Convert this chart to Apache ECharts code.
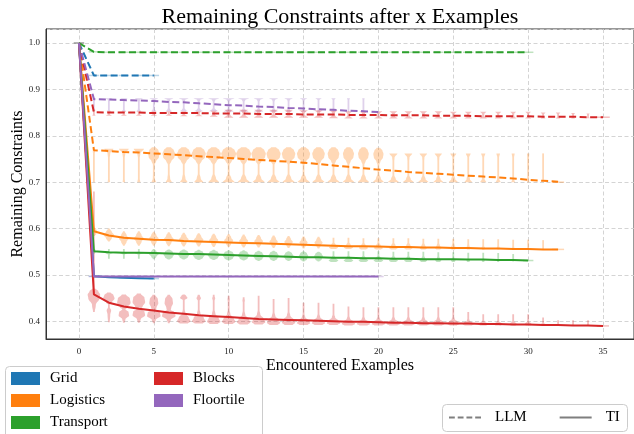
<!DOCTYPE html>
<html><head><meta charset="utf-8">
<script src="https://cdn.jsdelivr.net/npm/echarts@6/dist/echarts.min.js"></script>
<style>html,body{margin:0;padding:0;background:#fff}#c{width:634px;height:434px}</style>
</head><body><div id="c"></div>
<script>
// ---------------- DATA ----------------
const domains = ['Grid', 'Logistics', 'Transport', 'Blocks', 'Floortile'];
const methods = ['LLM', 'TI'];
const xTickLabels = [0, 5, 10, 15, 20, 25, 30, 35];
const yTickLabels = [0.4, 0.5, 0.6, 0.7, 0.8, 0.9, 1.0];

// mean remaining constraints, index = encountered examples
const llmGrid = [1.0, 0.93, 0.93, 0.93, 0.93, 0.93];
const llmLogistics = [1.0, 0.769, 0.767, 0.765, 0.764, 0.762, 0.760, 0.758, 0.756, 0.754, 0.752, 0.750, 0.748, 0.746, 0.744, 0.742, 0.739, 0.736, 0.733, 0.730, 0.727, 0.725, 0.722, 0.720, 0.718, 0.716, 0.714, 0.712, 0.710, 0.708, 0.705, 0.703, 0.701];
const llmTransport = [1.0, 0.981, 0.980, 0.980, 0.980, 0.980, 0.980, 0.980, 0.980, 0.980, 0.980, 0.980, 0.980, 0.980, 0.980, 0.980, 0.980, 0.980, 0.980, 0.980, 0.980, 0.980, 0.980, 0.980, 0.980, 0.980, 0.980, 0.980, 0.980, 0.980, 0.980];
const llmBlocks = [1.0, 0.851, 0.850, 0.850, 0.850, 0.849, 0.849, 0.849, 0.849, 0.848, 0.848, 0.848, 0.847, 0.847, 0.847, 0.846, 0.846, 0.846, 0.845, 0.845, 0.845, 0.844, 0.844, 0.844, 0.843, 0.843, 0.843, 0.842, 0.842, 0.842, 0.842, 0.841, 0.841, 0.841, 0.840, 0.840];
const llmFloortile = [1.0, 0.879, 0.878, 0.877, 0.876, 0.875, 0.873, 0.872, 0.870, 0.868, 0.866, 0.865, 0.863, 0.862, 0.860, 0.859, 0.857, 0.856, 0.854, 0.853, 0.851];

const tiGrid = [1.0, 0.497, 0.495, 0.494, 0.493, 0.492];
const tiLogistics = [1.0, 0.594, 0.585, 0.580, 0.578, 0.576, 0.575, 0.573, 0.572, 0.571, 0.570, 0.569, 0.568, 0.567, 0.566, 0.565, 0.564, 0.563, 0.562, 0.562, 0.561, 0.560, 0.560, 0.559, 0.559, 0.558, 0.558, 0.557, 0.557, 0.556, 0.556, 0.555, 0.555];
const tiTransport = [1.0, 0.551, 0.549, 0.548, 0.548, 0.547, 0.546, 0.545, 0.545, 0.544, 0.543, 0.542, 0.541, 0.540, 0.539, 0.538, 0.538, 0.537, 0.537, 0.536, 0.536, 0.535, 0.535, 0.534, 0.534, 0.534, 0.533, 0.533, 0.532, 0.532, 0.531];
const tiBlocks = [1.0, 0.458, 0.440, 0.432, 0.427, 0.423, 0.419, 0.416, 0.413, 0.411, 0.409, 0.407, 0.405, 0.404, 0.403, 0.402, 0.401, 0.400, 0.399, 0.399, 0.398, 0.397, 0.397, 0.396, 0.396, 0.395, 0.395, 0.394, 0.394, 0.393, 0.393, 0.392, 0.392, 0.391, 0.391, 0.390];
const tiFloortile = [1.0, 0.4965, 0.4965, 0.4965, 0.4965, 0.4965, 0.4965, 0.4965, 0.4965, 0.4965, 0.4965, 0.4965, 0.4965, 0.4965, 0.4965, 0.4965, 0.4965, 0.4965, 0.4965, 0.4965, 0.4965];

// violins: [x, low, high, shape, top density, bottom density]
const violinsStart = [[0, 1.0, 1.0, '-', 0.35, 0]];
const violinsLogisticsLLM = [
  [1,0.70,0.770,'T',0.08,0.06],[2,0.70,0.772,'T',0.30,0.08],[3,0.70,0.772,'T',0.32,0.08],[4,0.70,0.772,'T',0.34,0.10],
  [5,0.70,0.775,'B',0.38,0.15],[6,0.70,0.775,'B',0.42,0.20],[7,0.70,0.775,'B',0.45,0.25],[8,0.70,0.775,'B',0.47,0.30],
  [9,0.70,0.775,'B',0.48,0.35],[10,0.70,0.775,'B',0.50,0.40],[11,0.70,0.775,'B',0.50,0.40],[12,0.70,0.775,'B',0.48,0.40],
  [13,0.70,0.775,'B',0.47,0.40],[14,0.70,0.775,'B',0.45,0.40],[15,0.70,0.775,'B',0.44,0.40],[16,0.70,0.775,'B',0.42,0.40],
  [17,0.70,0.775,'B',0.39,0.40],[18,0.70,0.775,'B',0.37,0.38],[19,0.70,0.775,'B',0.36,0.37],[20,0.70,0.774,'B',0.34,0.36],
  [21,0.70,0.762,'T',0.27,0.36],[22,0.70,0.762,'T',0.26,0.35],[23,0.70,0.762,'T',0.25,0.34],[24,0.70,0.762,'T',0.24,0.32],
  [25,0.70,0.762,'T',0.20,0.30],[26,0.70,0.762,'T',0.16,0.25],[27,0.70,0.762,'T',0.14,0.20],[28,0.70,0.762,'T',0.12,0.16],
  [29,0.70,0.762,'T',0.10,0.12],[30,0.70,0.762,'T',0.08,0.08],[31,0.705,0.762,'T',0.06,0.06],[32,0.70,0.70,'-',0.4,0]
];
const violinsFloortileLLM = [
  [1,0.855,0.881,'T',0.08,0.06],[2,0.853,0.881,'T',0.22,0.12],[3,0.853,0.881,'T',0.24,0.14],[4,0.853,0.881,'T',0.26,0.16],
  [5,0.853,0.881,'T',0.28,0.18],[6,0.853,0.881,'T',0.30,0.22],[7,0.853,0.881,'T',0.32,0.27],[8,0.853,0.881,'T',0.34,0.30],
  [9,0.853,0.881,'T',0.36,0.32],[10,0.852,0.881,'T',0.38,0.34],[11,0.852,0.881,'T',0.36,0.32],[12,0.852,0.881,'T',0.32,0.30],
  [13,0.852,0.881,'T',0.30,0.27],[14,0.852,0.881,'T',0.27,0.22],[15,0.852,0.881,'T',0.24,0.17],[16,0.852,0.881,'T',0.20,0.12],
  [17,0.852,0.881,'T',0.14,0.08],[18,0.852,0.881,'T',0.10,0.06],[19,0.852,0.881,'T',0.08,0.06]
];
const violinsBlocksLLM = [
  [1,0.843,0.856,'X',0.10,0.10],[2,0.843,0.853,'X',0.15,0.20],[3,0.843,0.853,'X',0.15,0.20],[4,0.843,0.853,'X',0.16,0.20],
  [5,0.843,0.853,'X',0.16,0.22],[6,0.843,0.853,'X',0.18,0.22],[7,0.842,0.853,'X',0.18,0.24],[8,0.842,0.853,'X',0.20,0.24],
  [9,0.841,0.854,'X',0.22,0.26],[10,0.839,0.856,'X',0.28,0.30],[11,0.839,0.856,'X',0.28,0.30],[12,0.839,0.856,'X',0.28,0.30],
  [13,0.839,0.856,'X',0.28,0.30],[14,0.839,0.856,'X',0.28,0.30],[15,0.839,0.855,'X',0.27,0.30],[16,0.839,0.855,'X',0.27,0.29],
  [17,0.838,0.855,'X',0.26,0.29],[18,0.837,0.853,'X',0.25,0.28],[19,0.837,0.853,'X',0.25,0.28],[20,0.837,0.853,'X',0.25,0.28],
  [21,0.837,0.853,'X',0.25,0.28],[22,0.837,0.853,'X',0.25,0.28],[23,0.837,0.853,'X',0.24,0.27],[24,0.837,0.853,'X',0.24,0.27],
  [25,0.837,0.852,'X',0.23,0.26],[26,0.837,0.852,'X',0.22,0.25],[27,0.837,0.852,'X',0.21,0.24],[28,0.837,0.852,'X',0.20,0.23],
  [29,0.837,0.852,'X',0.19,0.22],[30,0.837,0.852,'X',0.18,0.20],[31,0.837,0.850,'X',0.15,0.15],[32,0.837,0.850,'X',0.14,0.14],
  [33,0.837,0.849,'X',0.12,0.12],[34,0.838,0.848,'X',0.10,0.10],[35,0.840,0.840,'-',0.45,0]
];
const violinsLogisticsTI = [
  [1,0.584,0.602,'E',0.22,0],[2,0.572,0.600,'D',0.35,0],[3,0.563,0.594,'D',0.32,0],[4,0.563,0.594,'D',0.32,0],
  [5,0.563,0.593,'D',0.32,0],[6,0.562,0.592,'D',0.32,0],[7,0.561,0.591,'D',0.32,0],[8,0.561,0.590,'D',0.31,0],
  [9,0.560,0.589,'D',0.30,0],[10,0.560,0.588,'D',0.30,0],[11,0.559,0.587,'D',0.30,0],[12,0.559,0.586,'D',0.29,0],
  [13,0.558,0.585,'D',0.28,0],[14,0.558,0.584,'D',0.28,0],[15,0.557,0.583,'D',0.27,0],[16,0.557,0.582,'D',0.27,0],
  [17,0.556,0.580,'A',0,0.30],[18,0.556,0.580,'A',0,0.30],[19,0.555,0.579,'A',0,0.30],[20,0.555,0.579,'A',0,0.30],
  [21,0.555,0.579,'A',0,0.29],[22,0.555,0.579,'A',0,0.28],[23,0.555,0.578,'A',0,0.25],[24,0.555,0.578,'A',0,0.22],
  [25,0.555,0.578,'A',0,0.20],[26,0.555,0.577,'A',0,0.15],[27,0.555,0.577,'A',0,0.12],[28,0.555,0.577,'A',0,0.10],
  [29,0.555,0.576,'A',0,0.08],[30,0.555,0.576,'A',0,0.06],[31,0.555,0.575,'A',0,0.05],[32,0.555,0.555,'-',0.4,0]
];
const violinsTransportTI = [
  [1,0.546,0.556,'E',0.15,0],[2,0.535,0.556,'P',0.25,0],[3,0.535,0.556,'P',0.25,0],[4,0.535,0.556,'P',0.28,0],
  [5,0.534,0.556,'D',0.32,0],[6,0.533,0.555,'E',0.35,0],[7,0.533,0.555,'E',0.38,0],[8,0.532,0.554,'E',0.40,0],
  [9,0.532,0.554,'E',0.40,0],[10,0.531,0.553,'E',0.40,0],[11,0.531,0.553,'E',0.38,0],[12,0.530,0.552,'E',0.36,0],
  [13,0.530,0.552,'E',0.35,0],[14,0.530,0.551,'E',0.33,0],[15,0.529,0.551,'E',0.32,0],[16,0.529,0.550,'E',0.30,0],
  [17,0.528,0.551,'A',0,0.32],[18,0.528,0.551,'A',0,0.32],[19,0.528,0.551,'A',0,0.32],[20,0.528,0.551,'A',0,0.32],
  [21,0.528,0.550,'A',0,0.30],[22,0.528,0.550,'A',0,0.28],[23,0.528,0.550,'A',0,0.25],[24,0.528,0.549,'A',0,0.20],
  [25,0.528,0.549,'A',0,0.15],[26,0.528,0.548,'A',0,0.12],[27,0.528,0.548,'A',0,0.10],[28,0.528,0.547,'A',0,0.08],
  [29,0.529,0.545,'A',0,0.06],[30,0.531,0.531,'-',0.35,0]
];
const violinsBlocksTI = [
  [1,0.420,0.470,'I',0.42,0],[1,0.460,0.680,'L',0,0],[2,0.398,0.462,'H',0.38,0.15],[3,0.397,0.458,'R',0.45,0.35],
  [4,0.397,0.460,'R',0.42,0.42],[5,0.396,0.457,'R',0.30,0.45],[6,0.396,0.457,'R',0.28,0.45],[7,0.395,0.458,'K',0.25,0.45],
  [8,0.395,0.457,'K',0.15,0.45],[9,0.394,0.457,'K',0.10,0.45],[10,0.394,0.455,'K',0.08,0.45],[11,0.393,0.452,'K',0.08,0.45],
  [12,0.393,0.455,'K',0.06,0.45],[13,0.392,0.448,'K',0.06,0.45],[14,0.392,0.450,'K',0.06,0.45],[15,0.392,0.440,'K',0.06,0.45],
  [16,0.392,0.440,'K',0.06,0.45],[17,0.392,0.438,'K',0.06,0.45],[18,0.391,0.432,'K',0.06,0.45],[19,0.391,0.430,'K',0.06,0.45],
  [20,0.391,0.430,'K',0.06,0.45],[21,0.391,0.430,'K',0.06,0.45],[22,0.391,0.430,'K',0.06,0.44],[23,0.391,0.430,'K',0.06,0.43],
  [24,0.391,0.430,'K',0.06,0.42],[25,0.391,0.430,'K',0.06,0.40],[26,0.391,0.420,'K',0.06,0.38],[27,0.391,0.415,'K',0.06,0.34],
  [28,0.391,0.415,'K',0.06,0.30],[29,0.391,0.415,'K',0.06,0.27],[30,0.391,0.415,'K',0.06,0.25],[31,0.390,0.408,'K',0.06,0.20],
  [32,0.390,0.402,'K',0.06,0.12],[33,0.390,0.402,'K',0.06,0.10],[34,0.390,0.402,'K',0.06,0.10],[35,0.390,0.390,'-',0.4,0]
];

// ---------------- STYLE ----------------
const colors = { Grid: '#1f77b4', Logistics: '#ff7f0e', Transport: '#2ca02c', Blocks: '#d62728', Floortile: '#9467bd' };
const fills = { Grid: 'rgba(31,119,180,0.3)', Logistics: 'rgba(255,127,14,0.3)', Transport: 'rgba(44,160,44,0.3)', Blocks: 'rgba(214,39,40,0.3)', Floortile: 'rgba(148,103,189,0.3)' };
const FONT = '"Liberation Serif", "Times New Roman", "DejaVu Serif", serif';
const STEM = 0.06;
const templates = {
  T: [[0,1,'b'],[0.1,0.45,'b'],[0.25,0,'s'],[0.72,0,'s'],[0.86,0.3,'t'],[1,1,'t']],
  B: [[0,1,'b'],[0.1,0.45,'b'],[0.25,0,'s'],[0.5,0,'s'],[0.6,0.4,'t'],[0.72,0.9,'t'],[0.82,1,'t'],[0.92,0.8,'t'],[1,0.35,'t']],
  X: [[0,1,'b'],[0.3,0.4,'b'],[0.5,0,'s'],[0.7,0.4,'t'],[1,1,'t']],
  D: [[0,0,'s'],[0.25,0.55,'t'],[0.5,1,'t'],[0.75,0.55,'t'],[1,0,'s']],
  E: [[0,0.15,'t'],[0.2,0.7,'t'],[0.5,1,'t'],[0.8,0.7,'t'],[1,0.15,'t']],
  A: [[0,0.6,'b'],[0.12,1,'b'],[0.35,0.5,'b'],[0.6,0.15,'b'],[0.8,0,'s'],[1,0,'s']],
  P: [[0,0,'s'],[0.35,0,'s'],[0.45,0.3,'t'],[0.55,1,'t'],[0.65,0.3,'t'],[0.75,0,'s'],[1,0,'s']],
  I: [[0,0,'s'],[0.3,0.3,'t'],[0.6,0.9,'t'],[0.75,1,'t'],[0.9,0.7,'t'],[1,0.3,'t']],
  H: [[0,0,'s'],[0.25,0.6,'b'],[0.4,1,'b'],[0.5,0.4,'b'],[0.6,0,'s'],[0.66,0.5,'t'],[0.8,1,'t'],[0.92,0.8,'t'],[1,0.3,'t']],
  R: [[0,0,'s'],[0.12,0.3,'b'],[0.25,1,'b'],[0.38,0.9,'b'],[0.47,0.3,'b'],[0.55,0.6,'t'],[0.7,1,'t'],[0.85,0.9,'t'],[1,0.3,'t']],
  K: [[0,0.6,'b'],[0.08,1,'b'],[0.2,0.75,'b'],[0.35,0.25,'b'],[0.5,0,'s'],[0.8,0,'s'],[0.88,1,'t'],[0.96,0.6,'t'],[1,0.2,'t']],
  L: [[0,0,'s'],[1,0,'s']]
};
function widthAt(knots, t, wt, wb) {
  const val = k => k[2] === 's' ? STEM : Math.max(STEM, k[1] * (k[2] === 't' ? wt : wb));
  for (let i = 0; i < knots.length - 1; i++) {
    const a = knots[i], b = knots[i + 1];
    if (t >= a[0] && t <= b[0]) {
      const u = (t - a[0]) / (b[0] - a[0]);
      const s = (1 - Math.cos(Math.PI * u)) / 2;
      return val(a) + (val(b) - val(a)) * s;
    }
  }
  return val(knots[knots.length - 1]);
}
function violinSeries(id, list, fill) {
  return {
    type: 'custom', id: id, silent: true, z: 1, clip: true,
    data: list.map(d => [d[0], d[1], d[2]]),
    encode: { x: 0, y: [1, 2] },
    renderItem: function (params, api) {
      const d = list[params.dataIndex];
      const x = d[0], lo = d[1], hi = d[2], sh = d[3], wt = d[4], wb = d[5];
      if (sh === '-') {
        const p1 = api.coord([x - wt, lo]), p2 = api.coord([x + wt, lo]);
        return { type: 'line', shape: { x1: p1[0], y1: p1[1], x2: p2[0], y2: p2[1] }, style: { stroke: fill, lineWidth: 1.5 } };
      }
      const knots = templates[sh], N = 48, right = [], left = [];
      for (let i = 0; i <= N; i++) {
        const t = i / N, v = lo + (hi - lo) * t, w = widthAt(knots, t, wt, wb);
        right.push(api.coord([x + w, v]));
        left.push(api.coord([x - w, v]));
      }
      return { type: 'polygon', shape: { points: right.concat(left.reverse()) }, style: { fill: fill } };
    }
  };
}
// degenerate violins (every run gives the same value) are drawn as flat bars at the mean
function flatViolins(values, w) {
  const out = [];
  for (let i = 1; i < values.length; i++) out.push([i, values[i], values[i], '-', w, 0]);
  return out;
}
function lineSeries(name, values, color, dashed) {
  return {
    type: 'line', name: name, data: values.map((v, i) => [i, v]), symbol: 'none', showSymbol: false,
    silent: true, z: 3, color: color,
    lineStyle: { color: color, width: 2, type: dashed ? [7, 3.5] : 'solid' }, itemStyle: { color: color }
  };
}

const llm = { Grid: llmGrid, Logistics: llmLogistics, Transport: llmTransport, Blocks: llmBlocks, Floortile: llmFloortile };
const ti = { Grid: tiGrid, Logistics: tiLogistics, Transport: tiTransport, Blocks: tiBlocks, Floortile: tiFloortile };

const series = [
  violinSeries('vStart', violinsStart, 'rgba(110,110,110,0.7)'),
  violinSeries('vLogLLM', violinsLogisticsLLM, fills.Logistics),
  violinSeries('vFloorLLM', violinsFloortileLLM, fills.Floortile),
  violinSeries('vBlocksLLM', violinsBlocksLLM, fills.Blocks),
  violinSeries('vGridLLM', flatViolins(llmGrid, 0.35), fills.Grid),
  violinSeries('vTransLLM', flatViolins(llmTransport, 0.35), fills.Transport),
  violinSeries('vLogTI', violinsLogisticsTI, fills.Logistics),
  violinSeries('vTransTI', violinsTransportTI, fills.Transport),
  violinSeries('vBlocksTI', violinsBlocksTI, fills.Blocks),
  violinSeries('vGridTI', flatViolins(tiGrid, 0.35), fills.Grid),
  violinSeries('vFloorTI', flatViolins(tiFloortile, 0.35), fills.Floortile)
];
domains.forEach(d => series.push(lineSeries(d + ' LLM', llm[d], colors[d], true)));
domains.forEach(d => series.push(lineSeries(d, ti[d], colors[d], false)));
series.push({ type: 'line', name: 'LLM', data: [], symbol: 'none', color: '#7f7f7f', lineStyle: { color: '#7f7f7f', width: 1.5, type: [4, 2.5] } });
series.push({ type: 'line', name: 'TI', data: [], symbol: 'none', color: '#7f7f7f', lineStyle: { color: '#7f7f7f', width: 1.5, type: 'solid' } });

const legendText = { fontFamily: FONT, fontSize: 15, color: '#000', padding: [0, 0, 0, 5] };
const option = {
  animation: false,
  backgroundColor: '#fff',
  grid: { left: 46, top: 29, width: 588, height: 310, show: true, borderColor: '#333', borderWidth: 1, containLabel: false, outerBoundsMode: 'none' },
  xAxis: {
    type: 'value', min: -2.2, max: 37.07, splitNumber: 8,
    name: 'Encountered Examples', nameLocation: 'middle', nameGap: 19, nameMoveOverlap: false,
    nameTextStyle: { fontFamily: FONT, fontSize: 16, color: '#000' },
    axisLine: { show: true, onZero: false, lineStyle: { color: '#333', width: 1 } },
    axisTick: { show: false },
    axisLabel: {
      fontFamily: FONT, fontSize: 9, color: '#222', margin: 8, showMinLabel: false, showMaxLabel: false,
      formatter: v => xTickLabels.indexOf(v) >= 0 ? String(v) : ''
    },
    splitLine: { show: true, lineStyle: { color: '#cfcfcf', type: [4, 2.5], width: 0.9 } }
  },
  yAxis: {
    type: 'value', min: 0.3618, max: 1.0302, splitNumber: 7,
    name: 'Remaining Constraints', nameLocation: 'middle', nameGap: 20, nameMoveOverlap: false,
    nameTextStyle: { fontFamily: FONT, fontSize: 16, color: '#000' },
    axisLine: { show: true, onZero: false, lineStyle: { color: '#333', width: 1 } },
    axisTick: { show: false },
    axisLabel: {
      fontFamily: FONT, fontSize: 9, color: '#222', margin: 6, showMinLabel: false, showMaxLabel: false,
      formatter: v => { const f = Number(v.toFixed(1)); return yTickLabels.indexOf(f) >= 0 && Math.abs(v - f) < 1e-6 ? f.toFixed(1) : ''; }
    },
    splitLine: { show: true, lineStyle: { color: '#cfcfcf', type: [4, 2.5], width: 0.9 } }
  },
  legend: [
    { data: domains.slice(0, 3), orient: 'vertical', left: 11, top: 371, height: 120, padding: 0, icon: 'rect', itemWidth: 29, itemHeight: 13, itemGap: 7, textStyle: legendText, selectedMode: false },
    { data: domains.slice(3), orient: 'vertical', left: 154, top: 371, height: 120, padding: 0, icon: 'rect', itemWidth: 29, itemHeight: 13, itemGap: 7, textStyle: legendText, selectedMode: false },
    { data: [
        { name: methods[0], icon: 'path://M0,0h6v2h-6zM9,0h6v2h-6zM18,0h6v2h-6zM27,0h6v2h-6z' },
        { name: methods[1], icon: 'path://M0,0h33v2h-33z' }
      ], orient: 'horizontal', left: 449, top: 410, width: 200, padding: 0, itemWidth: 32, itemHeight: 2, itemGap: 33,
      itemStyle: { color: '#7f7f7f' },
      textStyle: Object.assign({}, legendText, { padding: [0, 0, 0, 9] }), selectedMode: false }
  ],
  graphic: [
    { type: 'text', x: 340, y: 17, silent: true, style: { text: 'Remaining Constraints after x Examples', font: '22px ' + FONT, fill: '#000', textAlign: 'center', textVerticalAlign: 'middle' } },
    { type: 'rect', shape: { x: 5.5, y: 366.5, width: 257, height: 80, r: 4 }, style: { fill: 'rgba(255,255,255,0.8)', stroke: '#cccccc', lineWidth: 1 }, z: -1, silent: true },
    { type: 'rect', shape: { x: 442.5, y: 404.5, width: 185, height: 27, r: 4 }, style: { fill: 'rgba(255,255,255,0.8)', stroke: '#cccccc', lineWidth: 1 }, z: -1, silent: true }
  ],
  series: series
};
const chart = echarts.init(document.getElementById('c'));
chart.setOption(option);
</script>
</body></html>
